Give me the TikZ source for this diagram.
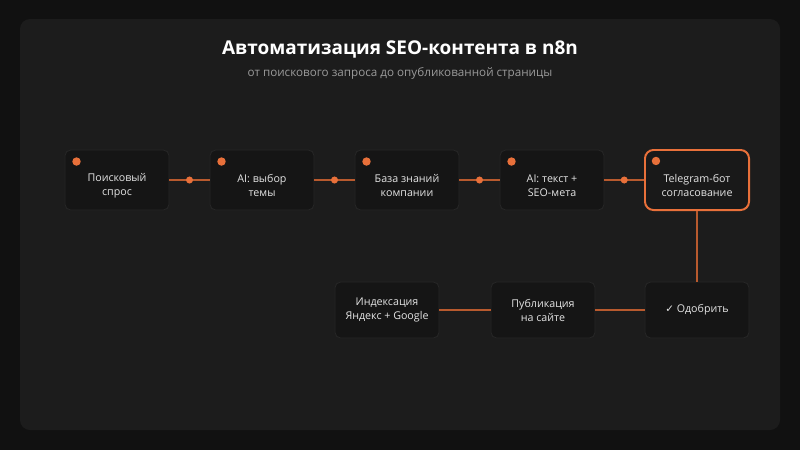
\documentclass[tikz,border=0pt]{standalone}
\usepackage{fontspec}
\setmainfont{Open Sans}
\newfontfamily\symfont{DejaVu Sans}
\usetikzlibrary{positioning}

\definecolor{pagebg}{HTML}{111111}
\definecolor{panelbg}{HTML}{1C1C1C}
\definecolor{boxbg}{HTML}{151515}
\definecolor{boxline}{HTML}{262626}
\definecolor{accent}{HTML}{E8703A}
\definecolor{wire}{HTML}{B85A2E}
\definecolor{subgray}{HTML}{9A9A9A}
\definecolor{boxtxt}{HTML}{E4E4E4}

\tikzset{
  stepnode/.style={draw=boxline, line width=0.6pt, fill=boxbg, rounded corners=4pt,
    minimum width=2.6cm, minimum height=1.5cm, inner sep=0pt},
  lownode/.style={stepnode, minimum height=1.4cm},
  hotnode/.style={stepnode, draw=accent, line width=1.4pt, rounded corners=6pt, fill=black!90},
  steptext/.style={text=boxtxt, align=center, font=\fontsize{7.6}{10}\selectfont},
  wireline/.style={draw=wire, line width=1.3pt},
  dot/.style={circle, fill=accent, inner sep=0pt, minimum size=5pt},
  pin/.style={circle, fill=accent, inner sep=0pt, minimum size=6pt}
}

\begin{document}
\begin{tikzpicture}[x=0.025cm, y=-0.025cm]
	\fill [pagebg] (0,0) rectangle (800,450);
	\fill [panelbg, rounded corners=0.25cm] (20,19) rectangle (780,430);

	\node [text=white, font=\fontsize{13.5}{16}\selectfont\bfseries] (title) at (400,49) {Автоматизация SEO-контента в n8n};
	\node [text=subgray, font=\fontsize{8.3}{10}\selectfont] (subtitle) at (400,73) {от поискового запроса до опубликованной страницы};

	% upper row
	\node [stepnode] (search) at (117,180) {};
	\node [stepnode] (topic) at (262,180) {};
	\node [stepnode] (base) at (407,180) {};
	\node [stepnode] (write) at (552,180) {};
	\node [hotnode] (bot) at (697,180) {};

	\node [steptext] (searcht) at ([yshift=-4pt]search.center) {Поисковый\\спрос};
	\node [steptext] (topict) at ([yshift=-4pt]topic.center) {AI: выбор\\темы};
	\node [steptext] (baset) at ([yshift=-4pt]base.center) {База знаний\\компании};
	\node [steptext] (writet) at ([yshift=-4pt]write.center) {AI: текст +\\SEO-мета};
	\node [steptext] (bott) at ([yshift=-4pt]bot.center) {Telegram-бот\\согласование};

	\node [pin] (searchp) at ([xshift=8.5pt, yshift=-8.5pt]search.north west) {};
	\node [pin] (topicp) at ([xshift=8.5pt, yshift=-8.5pt]topic.north west) {};
	\node [pin] (basep) at ([xshift=8.5pt, yshift=-8.5pt]base.north west) {};
	\node [pin] (writep) at ([xshift=8.5pt, yshift=-8.5pt]write.north west) {};
	\node [pin] (botp) at ([xshift=8.5pt, yshift=-8.5pt]bot.north west) {};

	% lower row
	\node [lownode] (approve) at (697,310) {};
	\node [lownode] (publish) at (543,310) {};
	\node [lownode] (index) at (387,310) {};
	\node [steptext] (approvet) at (approve.center) {{\symfont\fontsize{7.4}{10}\selectfont ✓} Одобрить};
	\node [steptext] (publisht) at (publish.center) {Публикация\\на сайте};
	\node [steptext] (indext) at (index.center) {Индексация\\Яндекс + Google};

	% wires
	\draw [wireline] (search) -- (topic) node [dot, midway] (d1) {};
	\draw [wireline] (topic) -- (base) node [dot, midway] (d2) {};
	\draw [wireline] (base) -- (write) node [dot, midway] (d3) {};
	\draw [wireline] (write) -- (bot) node [dot, midway] (d4) {};
	\draw [wireline] (bot) -- (approve);
	\draw [wireline] (approve) -- (publish);
	\draw [wireline] (publish) -- (index);
\end{tikzpicture}
\end{document}
